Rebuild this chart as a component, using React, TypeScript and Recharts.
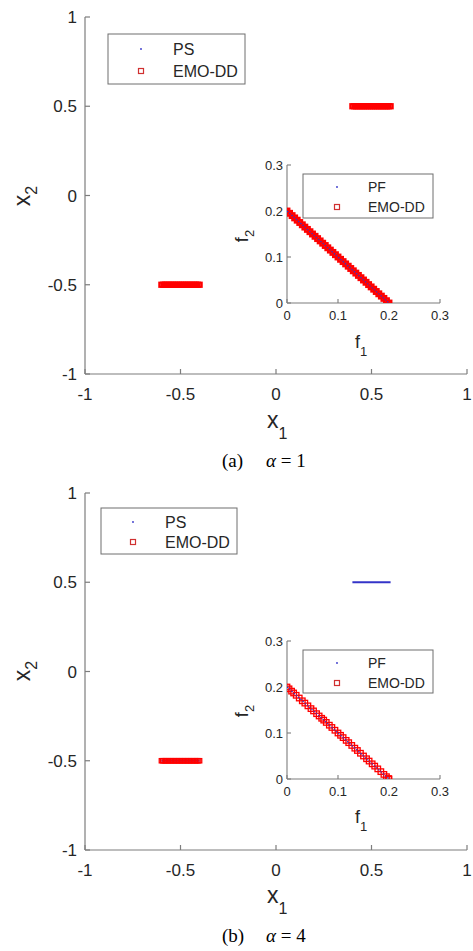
import React from 'react';
import { ScatterChart, Scatter, XAxis, YAxis } from 'recharts';

// ---------- data ----------
const xTicks = [-1, -0.5, 0, 0.5, 1];
const yTicks = [-1, -0.5, 0, 0.5, 1];
const fTicks = [0, 0.1, 0.2, 0.3];

// Pareto set (true) segments: x1 range, constant x2
const psLeftX = [-0.6, -0.4];
const psLeftY = -0.5;
const psRightX = [0.4, 0.6];
const psRightY = 0.5;

// Pareto front (true) endpoints
const pfF1 = [0, 0.2];
const pfF2 = [0.2, 0];

// EMO-DD, alpha = 1
const emoA_leftX = [-0.6, -0.59, -0.58, -0.57, -0.56, -0.55, -0.54, -0.53, -0.52, -0.51, -0.5, -0.49, -0.48, -0.47, -0.46, -0.45, -0.44, -0.43, -0.42, -0.41, -0.4];
const emoA_rightX = [0.4, 0.41, 0.42, 0.43, 0.44, 0.45, 0.46, 0.47, 0.48, 0.49, 0.5, 0.51, 0.52, 0.53, 0.54, 0.55, 0.56, 0.57, 0.58, 0.59, 0.6];
const emoA_f1 = [0, 0.005, 0.01, 0.015, 0.02, 0.025, 0.03, 0.035, 0.04, 0.045, 0.05, 0.055, 0.06, 0.065, 0.07, 0.075, 0.08, 0.085, 0.09, 0.095, 0.1, 0.105, 0.11, 0.115, 0.12, 0.125, 0.13, 0.135, 0.14, 0.145, 0.15, 0.155, 0.16, 0.165, 0.17, 0.175, 0.18, 0.185, 0.19, 0.195, 0.2];
const emoA_f2 = [0.2, 0.195, 0.19, 0.185, 0.18, 0.175, 0.17, 0.165, 0.16, 0.155, 0.15, 0.145, 0.14, 0.135, 0.13, 0.125, 0.12, 0.115, 0.11, 0.105, 0.1, 0.095, 0.09, 0.085, 0.08, 0.075, 0.07, 0.065, 0.06, 0.055, 0.05, 0.045, 0.04, 0.035, 0.03, 0.025, 0.02, 0.015, 0.01, 0.005, 0];

// EMO-DD, alpha = 4
const emoB_leftX = [-0.6, -0.593, -0.585, -0.578, -0.571, -0.563, -0.555, -0.548, -0.54, -0.532, -0.524, -0.517, -0.509, -0.501, -0.493, -0.486, -0.478, -0.47, -0.462, -0.455, -0.447, -0.439, -0.431, -0.423, -0.415, -0.408, -0.4];
const emoB_f1 = [0, 0.004, 0.009, 0.013, 0.018, 0.024, 0.03, 0.035, 0.041, 0.047, 0.052, 0.058, 0.063, 0.068, 0.072, 0.077, 0.083, 0.088, 0.094, 0.1, 0.105, 0.11, 0.116, 0.121, 0.127, 0.133, 0.138, 0.144, 0.15, 0.156, 0.161, 0.167, 0.172, 0.178, 0.184, 0.19, 0.195, 0.199, 0.2];
const emoB_f2 = [0.2, 0.196, 0.191, 0.187, 0.182, 0.176, 0.17, 0.165, 0.159, 0.153, 0.148, 0.142, 0.137, 0.132, 0.128, 0.123, 0.117, 0.112, 0.106, 0.1, 0.095, 0.09, 0.084, 0.079, 0.073, 0.067, 0.062, 0.056, 0.05, 0.044, 0.039, 0.033, 0.028, 0.022, 0.016, 0.01, 0.005, 0.001, 0];

// ---------- styles ----------
const AX = '#7d7d7d';
const TXT = '#262626';
const RED = '#ff0000';
const BLUE = '#3434c8';
const SANS = "'Liberation Sans', Arial, sans-serif";
const SERIF = "'Liberation Serif', 'Times New Roman', serif";

const noShape = () => <g />;
const square = (size: number, sw: number) => (p: any) => (
  <rect x={p.cx - size / 2} y={p.cy - size / 2} width={size} height={size} fill="none" stroke={RED} strokeWidth={sw} />
);

const seg = (xs: number[], y: number) => xs.map((x) => ({ x, y }));
const pairs = (xs: number[], ys: number[]) => xs.map((x, i) => ({ x, y: ys[i] }));
const fmt = (v: number) => String(v);

function MainPlot({ top, emoLeft, emoRight, sw }: { top: number; emoLeft: number[]; emoRight: number[]; sw: number }) {
  const tickStyle = { fill: TXT, fontSize: 17, fontFamily: SANS };
  return (
    <div style={{ position: 'absolute', left: 0, top, width: 473, height: 476 }}>
      <ScatterChart width={473} height={476} margin={{ top: 17, right: 6, bottom: 0, left: 0 }}>
        <XAxis xAxisId="b" type="number" dataKey="x" domain={[-1, 1]} ticks={xTicks} orientation="bottom" height={102}
          stroke={AX} strokeWidth={1.2} tickSize={-5} tickMargin={19} tick={tickStyle} tickFormatter={fmt} allowDataOverflow interval={0} />
        <XAxis xAxisId="t" type="number" dataKey="x" domain={[-1, 1]} ticks={xTicks} orientation="top" height={0}
          stroke={AX} strokeWidth={1.2} tickSize={-5} tick={false} allowDataOverflow interval={0} />
        <YAxis yAxisId="l" type="number" dataKey="y" domain={[-1, 1]} ticks={yTicks} orientation="left" width={85}
          stroke={AX} strokeWidth={1.2} tickSize={-5} tickMargin={13} tick={tickStyle} tickFormatter={fmt} allowDataOverflow interval={0} />
        <YAxis yAxisId="r" type="number" dataKey="y" domain={[-1, 1]} ticks={yTicks} orientation="right" width={0}
          stroke={AX} strokeWidth={1.2} tickSize={-5} tick={false} allowDataOverflow interval={0} />
        <Scatter xAxisId="b" yAxisId="l" data={seg(psLeftX, psLeftY)} line={{ stroke: BLUE, strokeWidth: 2 }} shape={noShape} isAnimationActive={false} />
        <Scatter xAxisId="b" yAxisId="l" data={seg(psRightX, psRightY)} line={{ stroke: BLUE, strokeWidth: 2 }} shape={noShape} isAnimationActive={false} />
        <Scatter xAxisId="b" yAxisId="l" data={seg(emoLeft, psLeftY)} shape={square(4.3, sw)} isAnimationActive={false} />
        <Scatter xAxisId="b" yAxisId="l" data={seg(emoRight, psRightY)} shape={square(4.3, sw)} isAnimationActive={false} />
      </ScatterChart>
    </div>
  );
}

function InsetPlot({ top, f1, f2, size, sw }: { top: number; f1: number[]; f2: number[]; size: number; sw: number }) {
  const tickStyle = { fill: TXT, fontSize: 13, fontFamily: SANS };
  return (
    <div style={{ position: 'absolute', left: 240, top, width: 210, height: 190 }}>
      <ScatterChart width={210} height={190} margin={{ top: 15, right: 10, bottom: 0, left: 0 }}>
        <XAxis xAxisId="b" type="number" dataKey="x" domain={[0, 0.3]} ticks={fTicks} orientation="bottom" height={37}
          stroke={AX} strokeWidth={1.1} tickSize={-4} tickMargin={12} tick={tickStyle} tickFormatter={fmt} allowDataOverflow interval={0} />
        <XAxis xAxisId="t" type="number" dataKey="x" domain={[0, 0.3]} ticks={fTicks} orientation="top" height={0}
          stroke={AX} strokeWidth={1.1} tickSize={-4} tick={false} allowDataOverflow interval={0} />
        <YAxis yAxisId="l" type="number" dataKey="y" domain={[0, 0.3]} ticks={fTicks} orientation="left" width={47}
          stroke={AX} strokeWidth={1.1} tickSize={-4} tickMargin={8} tick={tickStyle} tickFormatter={fmt} allowDataOverflow interval={0} />
        <YAxis yAxisId="r" type="number" dataKey="y" domain={[0, 0.3]} ticks={fTicks} orientation="right" width={0}
          stroke={AX} strokeWidth={1.1} tickSize={-4} tick={false} allowDataOverflow interval={0} />
        <Scatter xAxisId="b" yAxisId="l" data={pairs(f1, f2)} shape={square(size, sw)} isAnimationActive={false} />
        <Scatter xAxisId="b" yAxisId="l" data={pairs(pfF1, pfF2)} line={{ stroke: BLUE, strokeWidth: 1.2, strokeDasharray: '1.5 1.5' }} shape={noShape} isAnimationActive={false} />
      </ScatterChart>
    </div>
  );
}

function Legend({ x, y, w, h, r1, r2, mx, tx, a, b, fs }: any) {
  return (
    <g>
      <rect x={x} y={y} width={w} height={h} fill="#fff" stroke="#6e6e6e" strokeWidth={1} />
      <circle cx={mx} cy={r1} r={0.9} fill={BLUE} />
      <rect x={mx - 2.5} y={r2 - 2.5} width={5} height={5} fill="none" stroke="#d03030" strokeWidth={1.2} />
      <text x={tx} y={r1} dy="0.35em" fontSize={fs} fontFamily={SANS} fill={TXT}>{a}</text>
      <text x={tx} y={r2} dy="0.35em" fontSize={fs} fontFamily={SANS} fill={TXT}>{b}</text>
    </g>
  );
}

function Labels({ dy, tag, alpha }: { dy: number; tag: string; alpha: string }) {
  return (
    <g transform={`translate(0,${dy})`}>
      <text transform="translate(30,196) rotate(-90)" textAnchor="middle" fontFamily={SANS} fill={TXT} fontSize={23}>
        x<tspan fontSize={16} dy={7}>2</tspan>
      </text>
      <text x={267} y={428} fontFamily={SANS} fill={TXT} fontSize={23}>
        x<tspan fontSize={16} dy={11}>1</tspan>
      </text>
      <text transform="translate(248,236) rotate(-90)" textAnchor="middle" fontFamily={SANS} fill={TXT} fontSize={18}>
        f<tspan fontSize={13} dy={6}>2</tspan>
      </text>
      <text x={355} y={348} fontFamily={SANS} fill={TXT} fontSize={18}>
        f<tspan fontSize={13} dy={8}>1</tspan>
      </text>
      <text x={222} y={467} fontFamily={SERIF} fill="#000" fontSize={19}>{tag}</text>
      <text x={266} y={467} fontFamily={SERIF} fill="#000" fontSize={19}>
        <tspan fontStyle="italic">α</tspan> = {alpha}
      </text>
    </g>
  );
}

export default function App() {
  return (
    <div style={{ position: 'absolute', left: 0, top: 0, width: 473, height: 951, background: '#fff', overflow: 'hidden' }}>
      <MainPlot top={0} emoLeft={emoA_leftX} emoRight={emoA_rightX} sw={2} />
      <InsetPlot top={150} f1={emoA_f1} f2={emoA_f2} size={4.5} sw={2.4} />
      <MainPlot top={476} emoLeft={emoB_leftX} emoRight={[]} sw={1.3} />
      <InsetPlot top={626} f1={emoB_f1} f2={emoB_f2} size={5.5} sw={1.3} />
      <svg width={473} height={951} style={{ position: 'absolute', left: 0, top: 0, pointerEvents: 'none' }}>
        <Legend x={108} y={34} w={137} h={50} r1={49} r2={71} mx={141} tx={173} a="PS" b="EMO-DD" fs={16} />
        <Legend x={303} y={174} w={130} h={44} r1={187} r2={207} mx={337} tx={368} a="PF" b="EMO-DD" fs={14} />
        <Legend x={101} y={508} w={136} h={46} r1={522} r2={542} mx={133} tx={165} a="PS" b="EMO-DD" fs={16} />
        <Legend x={303} y={650} w={130} h={43} r1={663} r2={683} mx={337} tx={368} a="PF" b="EMO-DD" fs={14} />
        <Labels dy={0} tag="(a)" alpha="1" />
        <Labels dy={475} tag="(b)" alpha="4" />
      </svg>
    </div>
  );
}
